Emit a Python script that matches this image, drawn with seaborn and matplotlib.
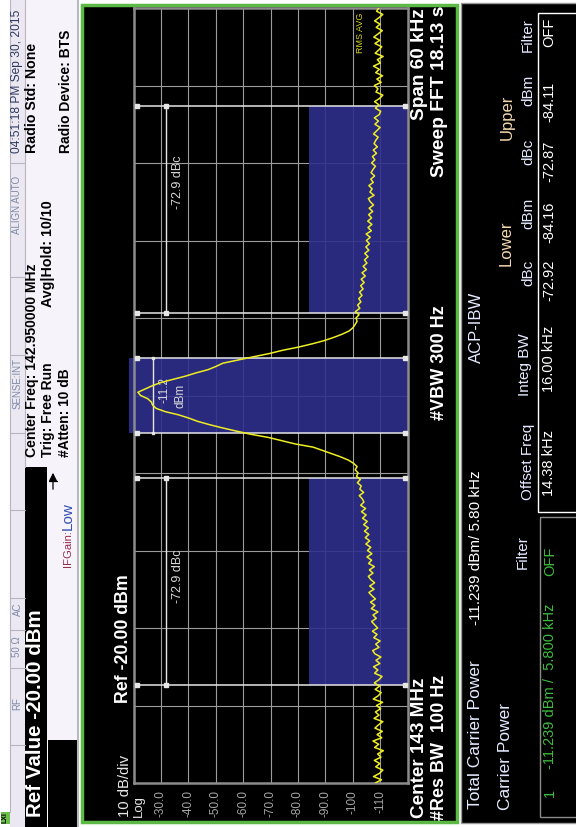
import numpy as np
import pandas as pd
import matplotlib
matplotlib.use('Agg')
import matplotlib.pyplot as plt
import seaborn as sns
from matplotlib.patches import Rectangle

sns.set_theme(style='dark')
plt.rcParams['font.family'] = ['Liberation Sans', 'DejaVu Sans']

# ---------------- data ----------------
ref_level_dbm = -20.0
bottom_level_dbm = -120.0
span_khz = 60.0
amp_ticks = [-30, -40, -50, -60, -70, -80, -90, -100, -110]
amp_tick_labels = ['-30.0', '-40.0', '-50.0', '-60.0', '-70.0', '-80.0', '-90.0', '-100', '-110']
freq_grid_khz = [-24, -18, -12, -6, 0, 6, 12, 18, 24]

# trace (dBm) sampled every 0.25 kHz from -30 kHz to +30 kHz
trace_dbm = [
    -108.2, -110.5, -107.6, -109.8, -111.0, -108.4, -109.9, -107.9,
    -110.3, -109.1, -111.2, -108.0, -109.5, -107.4, -110.6, -108.9,
    -110.8, -108.1, -109.4, -111.0, -107.8, -109.6, -108.3, -110.2,
    -108.7, -110.9, -107.5, -109.3, -110.4, -108.2, -109.8, -107.9,
    -109.6, -110.7, -108.0, -109.2, -107.6, -109.9, -108.5, -110.3,
    -108.1, -107.3, -109.6, -108.4, -110.0, -107.7, -108.9, -107.2,
    -109.1, -108.0, -106.9, -108.6, -107.4, -109.2, -106.8, -108.1,
    -106.5, -108.3, -107.0, -105.9, -107.8, -106.2, -108.0, -106.6,
    -105.7, -107.4, -106.1, -107.9, -105.8, -106.9, -105.2, -107.0,
    -105.4, -106.6, -104.8, -106.2, -104.6, -105.9, -104.3, -105.7,
    -104.0, -105.3, -103.6, -104.9, -103.2, -104.7, -102.9, -104.1,
    -103.5, -102.4, -104.0, -102.6, -103.1, -101.7, -102.8, -101.4,
    -102.0, -100.9, -101.6, -100.3, -98.4, -95.6, -92.3, -89.0,
    -85.6, -79.0, -74.2, -69.3, -62.8, -57.4, -52.3, -47.6,
    -43.4, -40.2, -36.5, -31.6, -28.3, -27.0, -26.5, -25.2,
    -22.6, -21.6, -24.2, -26.8, -29.9, -34.5, -39.0, -42.8,
    -47.2, -50.1, -52.6, -58.2, -63.8, -69.6, -74.4, -80.3,
    -85.2, -89.6, -93.1, -96.2, -98.7, -100.1, -100.9, -101.6,
    -101.2, -102.3, -101.0, -102.6, -101.8, -103.0, -102.2, -103.4,
    -102.5, -103.8, -102.9, -104.2, -103.1, -104.6, -103.4, -105.0,
    -103.8, -105.2, -104.3, -105.6, -104.4, -105.9, -104.8, -106.1,
    -105.0, -106.4, -104.9, -106.8, -105.6, -107.0, -105.5, -106.9,
    -105.8, -107.3, -106.0, -107.6, -106.4, -105.7, -107.8, -106.3,
    -107.1, -105.9, -107.5, -106.6, -108.0, -106.7, -107.4, -108.3,
    -106.9, -108.1, -107.2, -108.7, -107.5, -109.0, -107.8, -108.4,
    -109.3, -107.6, -108.8, -110.0, -108.1, -109.4, -107.9, -109.7,
    -110.2, -108.3, -109.6, -108.0, -109.8, -111.0, -108.5, -109.2,
    -107.9, -110.4, -108.8, -110.9, -108.4, -109.7, -107.6, -110.1,
    -109.0, -111.1, -108.2, -109.5, -110.6, -108.1, -109.9, -107.7,
    -109.3, -110.8, -108.6, -110.0, -108.0, -109.6, -111.0, -108.7,
    -109.5,
]
freq_khz = np.linspace(-span_khz / 2, span_khz / 2, len(trace_dbm))

carrier_bw_khz = 5.8
carrier_power_dbm = -11.239
acp_offset_khz = 14.38
acp_integ_bw_khz = 16.0
lower_dbc, lower_dbm = -72.92, -84.16
upper_dbc, upper_dbm = -72.87, -84.11

# ---------------- figure ----------------
W, H = 576, 827
fig = plt.figure(figsize=(W / 100, H / 100), dpi=100, facecolor='white')
r = fig.canvas.get_renderer()

ax0 = fig.add_axes([0, 0, 1, 1], zorder=0)
ax0.set_xlim(0, W)
ax0.set_ylim(H, 0)
ax0.axis('off')


def rect(x, y, w, h, fc, ec='none', lw=0, a=ax0, z=1):
    a.add_patch(Rectangle((x, y), w, h, facecolor=fc, edgecolor=ec, linewidth=lw, zorder=z))


def vtext(x, y_bot, y_top, s, color, weight='normal', size=None, a=ax0):
    t = a.text(x, (y_bot + y_top) / 2, s, rotation=90, ha='center', va='center',
               color=color, fontweight=weight, fontsize=10, zorder=5)
    if size is None:
        ext = t.get_window_extent(renderer=r)
        t.set_fontsize(10 * (y_bot - y_top) / ext.height)
    else:
        t.set_fontsize(size)
    return t


# left header area
rect(10, 0, 15, 827, '#ebe8f1')
rect(25, 0, 52, 740, '#f6f3fa')
rect(25, 467, 22, 360, 'black')
rect(48, 740, 29, 87, 'black')
ax0.plot([77.5, 77.5], [0, 827], color='#b9b9c0', lw=1.5, zorder=2)
ax0.plot([25, 25], [0, 467], color='#b8b4c4', lw=0.8, zorder=2)
ax0.plot([10, 10], [0, 812], color='#b8b4c4', lw=0.8, zorder=2)
for yy in [163, 277, 355, 433, 510, 598, 630, 668, 745]:
    ax0.plot([10, 25], [yy, yy], color='#b8b4c4', lw=0.8, zorder=2)
rect(0.5, 812, 9.5, 12, '#6cbf4a', z=2)
ax0.text(5, 818, 'LXI', rotation=90, ha='center', va='center', fontsize=5,
         fontweight='bold', color='black', zorder=5)

stat_c = '#7d8aa8'
vtext(17.5, 617, 602, 'AC', stat_c, size=7)
vtext(17.5, 660, 633, '50 \u03a9', stat_c, size=7)
vtext(17.5, 710, 697, 'RF', stat_c, size=7)
vtext(17.5, 413, 355, 'SENSE:INT', stat_c, size=7)
vtext(17.5, 240, 170, 'ALIGN AUTO', stat_c, size=7)
vtext(17.5, 153, 10, '04:51:18 PM Sep 30, 2015', '#2d3960')

vtext(32.5, 153, 43, 'Radio Std: None', 'black', 'bold')
vtext(66, 153, 30, 'Radio Device: BTS', 'black', 'bold')
vtext(32.5, 457, 263, 'Center Freq: 142.950000 MHz', 'black', 'bold')
vtext(48, 457, 362, 'Trig: Free Run', 'black', 'bold')
vtext(65, 457, 368, '#Atten: 10 dB', 'black', 'bold')
vtext(48, 307, 200, 'Avg|Hold: 10/10', 'black', 'bold')
vtext(68, 567, 530, 'IFGain:', '#9a2c48')
vtext(68, 530, 502, 'Low', '#2f4fb0')
ax0.annotate('', xy=(53, 470), xytext=(53, 492),
             arrowprops=dict(arrowstyle='-|>', color='black', lw=0.9), zorder=5)
ax0.plot([49, 57], [481, 481], color='black', lw=0.9, zorder=5)
vtext(36, 817, 610, 'Ref Value -20.00 dBm', 'white', 'bold')

# main (green) panel and table panel
rect(81.5, 4.5, 375, 817, 'black', ec='#5cb946', lw=2.5)
rect(461, 3, 120, 820, 'black', ec='#9a9a9a', lw=1)

vtext(124, 703, 575, 'Ref -20.00 dBm', 'white', 'bold')
vtext(125, 817, 755, '10 dB/div', '#e8e8e8')
vtext(139, 817, 795, 'Log', '#e8e8e8')
vtext(420, 818, 677, 'Center 143 MHz', 'white', 'bold')
vtext(440, 820, 675, '#Res BW  100 Hz', 'white', 'bold')
vtext(440, 420, 305, '#VBW 300 Hz', 'white', 'bold')
vtext(419, 120, 8, 'Span 60 kHz', 'white', 'bold')
vtext(440, 177, 5, 'Sweep FFT 18.13 s', 'white', 'bold')

# table
hdr = '#e4eaff'
peach = '#f5d9ae'
grn = '#3dbd3d'
hs, vs = 11, 10.5
rect(538, 13, 45, 499, 'none', ec='white', lw=1.0, z=3)
rect(540, 517, 45, 300, 'none', ec='#8a8a8a', lw=1.0, z=3)
vtext(476, 812, 657, 'Total Carrier Power', hdr, size=12.5)
vtext(476, 620, 475, f'{carrier_power_dbm:.3f} dBm/ {carrier_bw_khz:.2f} kHz', 'white', size=11)
vtext(476, 367, 288, 'ACP-IBW', hdr, size=12)
vtext(505, 810, 702, 'Carrier Power', hdr, size=12.5)
vtext(506, 267, 220, 'Lower', peach, size=12)
vtext(507, 137, 97, 'Upper', peach, size=12)
vtext(523, 573, 532, 'Filter', hdr, size=hs)
vtext(528, 500, 423, 'Offset Freq', hdr, size=hs)
vtext(525, 397, 333, 'Integ BW', hdr, size=hs)
vtext(528, 287, 258, 'dBc', hdr, size=hs)
vtext(528, 226, 200, 'dBm', hdr, size=hs)
vtext(528, 163, 140, 'dBc', hdr, size=hs)
vtext(528, 102, 78, 'dBm', hdr, size=hs)
vtext(528, 50, 20, 'Filter', hdr, size=hs)
vtext(549, 497, 428, f'{acp_offset_khz:.2f} kHz', 'white', size=vs)
vtext(549, 393, 325, f'{acp_integ_bw_khz:.2f} kHz', 'white', size=vs)
vtext(549, 300, 260, f'{lower_dbc:.2f}', 'white', size=vs)
vtext(549, 245, 200, f'{lower_dbm:.2f}', 'white', size=vs)
vtext(549, 180, 143, f'{upper_dbc:.2f}', 'white', size=vs)
vtext(549, 120, 83, f'{upper_dbm:.2f}', 'white', size=vs)
vtext(549, 45, 20, 'OFF', 'white', size=vs)
vtext(550, 798, 787, '1', grn, size=vs)
vtext(550, 773, 600, f'{carrier_power_dbm:.3f} dBm /  {carrier_bw_khz:.3f} kHz', grn, size=vs)
vtext(550, 575, 547, 'OFF', grn, size=vs)

# ---------------- spectrum graticule ----------------
gl, gr, gt, gb = 133.5, 407.5, 8.0, 783.0
ax = fig.add_axes([gl / W, (H - gb) / H, (gr - gl) / W, (gb - gt) / H], zorder=2)
ax.set_facecolor('black')
ax.set_xlim(ref_level_dbm, bottom_level_dbm)
ax.set_ylim(-span_khz / 2, span_khz / 2)
ax.set_xticks(amp_ticks, amp_tick_labels)
ax.set_yticks(freq_grid_khz)
ax.set_yticklabels([])
ax.grid(True, color='#9c9c9c', lw=0.8)
ax.set_axisbelow(True)
ax.tick_params(axis='x', length=0, pad=5, labelrotation=90, labelcolor='#a6a6a6', labelsize=8.5)
ax.tick_params(axis='y', length=0)
for s in ax.spines.values():
    s.set_color('#8c8c8c')
    s.set_linewidth(1.8)

blue = '#2e2e8c'
half_c = carrier_bw_khz / 2
inner = acp_offset_khz - acp_integ_bw_khz / 2
outer = acp_offset_khz + acp_integ_bw_khz / 2
ax.fill_betweenx([-half_c, half_c], -18.4, bottom_level_dbm, color=blue, alpha=0.9,
                 lw=0, zorder=1.5, clip_on=False)
ax.fill_betweenx([inner, outer], upper_dbm, bottom_level_dbm, color=blue, alpha=0.9, lw=0, zorder=1.5)
ax.fill_betweenx([-outer, -inner], lower_dbm, bottom_level_dbm, color=blue, alpha=0.9, lw=0, zorder=1.5)

wc = '#e6e6e6'
for f in [-outer, -inner, -half_c, half_c, inner, outer]:
    ax.plot([-21.3, -119.1], [f, f], color=wc, lw=1.1, marker='s', ms=2.2, zorder=3)
ax.plot([-31.9, -31.9], [inner, outer], color=wc, lw=1.0, marker='s', ms=2.2, zorder=3)
ax.plot([-31.9, -31.9], [-outer, -inner], color=wc, lw=1.0, marker='s', ms=2.2, zorder=3)
ax.plot([-27.0, -27.0], [-half_c, half_c], color=wc, lw=1.0, marker='s', ms=2.0, zorder=3)
ax.text(-36.2, 16.5, f'{upper_dbc:.1f} dBc', rotation=90, ha='center', va='center',
        color='#d8d8d8', fontsize=9, zorder=3.5)
ax.text(-36.2, -14.0, f'{lower_dbc:.1f} dBc', rotation=90, ha='center', va='center',
        color='#d8d8d8', fontsize=9, zorder=3.5)
ax.text(-31.3, 0.43, f'{carrier_power_dbm:.1f}', rotation=90, ha='center', va='center',
        color='#d8d8d8', fontsize=8.5, zorder=3.5)
ax.text(-37.3, 0.0, 'dBm', rotation=90, ha='center', va='center',
        color='#d8d8d8', fontsize=8.5, zorder=3.5)
ax.text(-102.7, 26.5, 'RMS AVG', rotation=90, ha='center', va='bottom',
        color='#d8d820', fontsize=6.5, zorder=3.5)

df = pd.DataFrame({'amp': trace_dbm, 'freq': freq_khz})
sns.lineplot(data=df, x='amp', y='freq', orient='y', sort=False, estimator=None,
             color='#eeee22', lw=1.1, ax=ax, zorder=4)
ax.set_xlabel('')
ax.set_ylabel('')

fig.savefig('out.png', dpi=100, facecolor='white')
